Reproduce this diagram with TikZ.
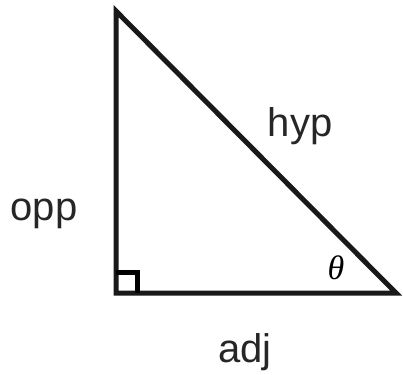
\documentclass[tikz,border=0pt]{standalone}
\usepackage{fontspec}
\setmainfont{Liberation Sans}
\newfontfamily\thetafont{Liberation Serif}
\tikzset{
  edge/.style={line width=5pt, line join=miter, draw=black!90},
  lbl/.style={font=\fontsize{40}{44}\selectfont, text=black!85, inner sep=0pt}
}
\begin{document}
\begin{tikzpicture}[x=1pt,y=-1pt]
\useasboundingbox (0,0) rectangle (403,374);
\coordinate (T) at (116,11);
\coordinate (B) at (116,293);
\coordinate (R) at (396,293);
\draw[edge] (T) -- (B) -- (R) -- cycle;
\draw[line width=5pt] (116,272) -- (137,272) -- (137,293);
\node[lbl] (opp) at (44,214) {opp};
\node[lbl] (hyp) at (300,126) {hyp};
\node[lbl] (adj) at (245,352) {adj};
\node[inner sep=0pt, font=\thetafont\itshape\fontsize{34}{36}\selectfont] (th) at (336,268) {θ};
\end{tikzpicture}
\end{document}
